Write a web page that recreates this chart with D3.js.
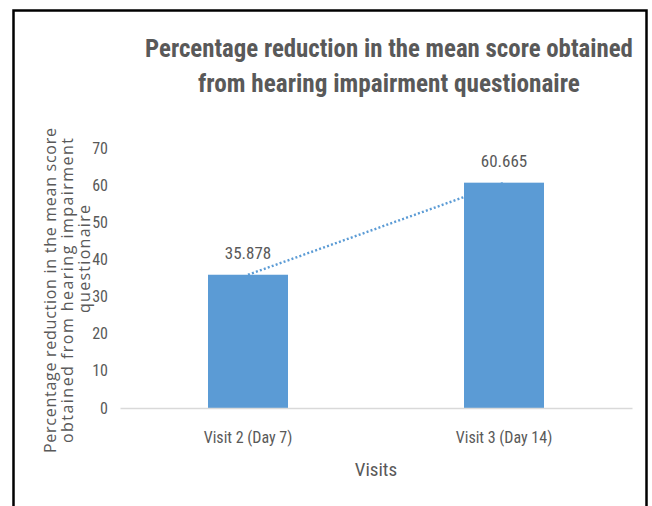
<!DOCTYPE html>
<html>
<head>
<meta charset="utf-8">
<script src="https://cdn.jsdelivr.net/npm/d3@7"></script>
<style>
  html, body { margin: 0; padding: 0; background: #fff; }
  svg { display: block; }
</style>
</head>
<body>
<svg id="chart" width="652" height="506"></svg>
<script>
const categories = ["Visit 2 (Day 7)", "Visit 3 (Day 14)"];
const values = [35.878, 60.665];
const valueLabels = ["35.878", "60.665"];
const yTicks = [0, 10, 20, 30, 40, 50, 60, 70];
const titleLines = ["Percentage reduction in the mean score obtained", "from hearing impairment questionaire"];
const yTitleLines = ["Percentage reduction in the mean score", "obtained from hearing impairment", "questionaire"];
const xTitle = "Visits";

const svg = d3.select("#chart");
const grey = "#595959";
const barColor = "#5b9bd5";
const narrow = "'Liberation Sans Narrow', 'Arial Narrow', 'Roboto Condensed', 'Liberation Sans', sans-serif";
const wide = "'Open Sans', 'DejaVu Sans', sans-serif";

// frame
svg.append("rect")
  .attr("x", 13.5).attr("y", 10.5)
  .attr("width", 633).attr("height", 520)
  .attr("fill", "none").attr("stroke", "#000").attr("stroke-width", 2.5);

const x = d3.scaleBand().domain(categories).range([120, 632])
  .paddingInner(0.6875).paddingOuter(0.34375);
const y = d3.scaleLinear().domain([0, 70]).range([408, 148]);

// title: size fitted so natural width matches the reference
const titleSpec = [{w: 488, b: 57}, {w: 382, b: 92}];
svg.selectAll("text.title").data(titleLines).enter().append("text")
  .attr("class", "title")
  .attr("x", 389).attr("y", (d, i) => titleSpec[i].b)
  .attr("text-anchor", "middle")
  .attr("font-family", narrow).attr("font-weight", "bold")
  .attr("font-size", 26).attr("fill", grey)
  .text(d => d)
  .each(function (d, i) {
    const w = this.getComputedTextLength();
    if (w > 0) d3.select(this).attr("font-size", 26 * titleSpec[i].w / w);
  });

// y axis (tick labels only)
const yAxis = d3.axisLeft(y).tickValues(yTicks).tickSize(0).tickPadding(0);
const gy = svg.append("g").attr("transform", "translate(108,0)").call(yAxis);
gy.select(".domain").remove();
gy.selectAll("text").attr("font-family", narrow).attr("font-size", 16).attr("fill", grey);

// trend line (dotted) under bars
const pts = categories.map((c, i) => [x(c) + x.bandwidth() / 2, y(values[i])]);
svg.append("path")
  .attr("d", d3.line()(pts))
  .attr("fill", "none").attr("stroke", barColor)
  .attr("stroke-width", 2.4).attr("stroke-dasharray", "2,2.2");

// bars
svg.selectAll("rect.bar").data(values).enter().append("rect")
  .attr("class", "bar")
  .attr("x", (d, i) => x(categories[i]))
  .attr("y", d => y(d))
  .attr("width", x.bandwidth())
  .attr("height", d => y(0) - y(d))
  .attr("fill", barColor);

// x axis
const xAxis = d3.axisBottom(x).tickSize(0).tickPadding(0);
const gx = svg.append("g").attr("transform", "translate(0,408)").call(xAxis);
gx.select(".domain").attr("stroke", "#d9d9d9").attr("stroke-width", 1.5);
gx.selectAll("text").attr("font-family", narrow).attr("font-size", 16).attr("fill", grey)
  .attr("dy", null).attr("y", 35);

// data labels
svg.selectAll("text.vlab").data(values).enter().append("text")
  .attr("class", "vlab")
  .attr("x", (d, i) => x(categories[i]) + x.bandwidth() / 2)
  .attr("y", d => y(d) - 16)
  .attr("text-anchor", "middle")
  .attr("font-family", narrow).attr("font-size", 17).attr("fill", grey)
  .text((d, i) => valueLabels[i]);

// x title
svg.append("text")
  .attr("x", 376).attr("y", 476)
  .attr("text-anchor", "middle")
  .attr("font-family", narrow).attr("font-size", 19).attr("fill", grey)
  .text(xTitle);

// y title (rotated, 3 lines)
const ySpec = [{cx: 56, y0: 453, y1: 128}, {cx: 73, y0: 443, y1: 138}, {cx: 90, y0: 313, y1: 205}];
yTitleLines.forEach((t, i) => {
  const s = ySpec[i];
  const cy = (s.y0 + s.y1) / 2;
  svg.append("text")
    .attr("transform", `translate(${s.cx},${cy}) rotate(-90)`)
    .attr("text-anchor", "middle")
    .attr("font-family", wide).attr("font-size", 16).attr("fill", grey)
    .attr("textLength", s.y0 - s.y1).attr("lengthAdjust", "spacing")
    .text(t);
});
</script>
</body>
</html>
